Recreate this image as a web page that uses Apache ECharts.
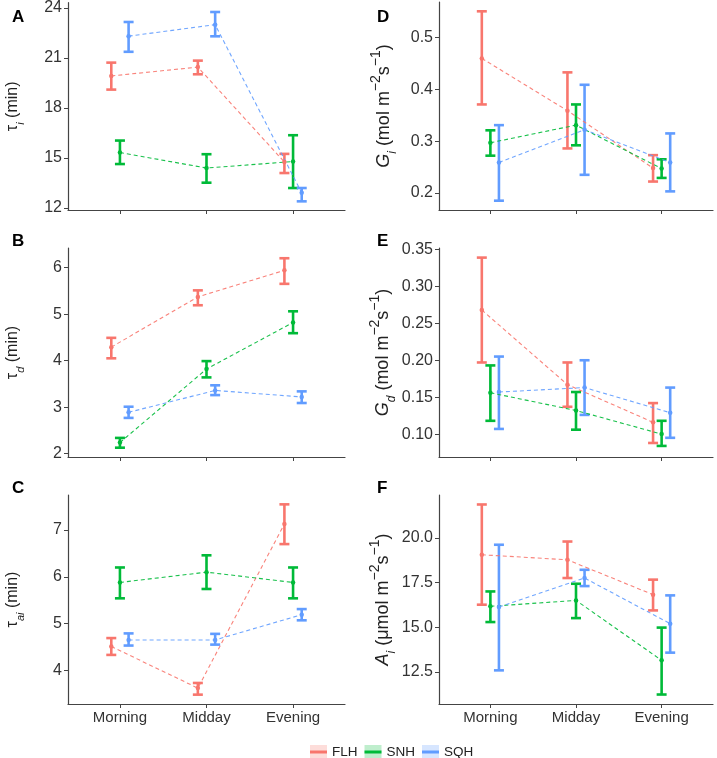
<!DOCTYPE html>
<html>
<head>
<meta charset="utf-8">
<title>Time constants and conductances</title>
<script src="https://cdn.jsdelivr.net/npm/echarts/dist/echarts.min.js"></script>
<style>
  html, body { margin: 0; padding: 0; background: #fff; }
  #main { width: 717px; height: 758px; }
</style>
</head>
<body>
<div id="main"></div>
<script>
// x positions: categories 1..3, groups dodged
const categories = ['Morning', 'Midday', 'Evening'];
const groups = ['FLH', 'SNH', 'SQH'];

// each array: [FLH, SNH, SQH], each row = [Morning, Midday, Evening]
const tauI_mean = [[19.92, 20.45, 14.75], [15.32, 14.39, 14.78], [22.31, 23.00, 12.90]];
const tauI_low  = [[19.10, 20.02, 14.09], [14.63, 13.51, 13.19], [21.37, 22.30, 12.39]];
const tauI_high = [[20.72, 20.84, 15.24], [16.04, 15.22, 16.36], [23.16, 23.76, 13.19]];
const tauI_ticks = [12, 15, 18, 21, 24];

const tauD_mean = [[4.29, 5.37, 5.94], [2.24, 3.82, 4.82], [2.89, 3.36, 3.22]];
const tauD_low  = [[4.05, 5.19, 5.65], [2.13, 3.64, 4.59], [2.77, 3.26, 3.09]];
const tauD_high = [[4.49, 5.51, 6.20], [2.34, 3.99, 5.06], [3.01, 3.47, 3.34]];
const tauD_ticks = [2, 3, 4, 5, 6];

const tauAI_mean = [[4.51, 3.62, 7.13], [5.88, 6.10, 5.88], [4.65, 4.65, 5.19]];
const tauAI_low  = [[4.33, 3.48, 6.70], [5.54, 5.74, 5.54], [4.53, 4.55, 5.07]];
const tauAI_high = [[4.69, 3.73, 7.55], [6.20, 6.46, 6.20], [4.79, 4.78, 5.31]];
const tauAI_ticks = [4, 5, 6, 7];

const gI_mean = [[0.460, 0.359, 0.248], [0.297, 0.331, 0.247], [0.259, 0.322, 0.259]];
const gI_low  = [[0.371, 0.286, 0.222], [0.272, 0.292, 0.229], [0.185, 0.235, 0.203]];
const gI_high = [[0.551, 0.433, 0.273], [0.321, 0.371, 0.265], [0.331, 0.409, 0.315]];
const gI_ticks = [0.2, 0.3, 0.4, 0.5];

const gD_mean = [[0.268, 0.167, 0.116], [0.156, 0.132, 0.100], [0.157, 0.163, 0.129]];
const gD_low  = [[0.197, 0.137, 0.088], [0.118, 0.106, 0.084], [0.107, 0.126, 0.095]];
const gD_high = [[0.339, 0.197, 0.142], [0.193, 0.157, 0.118], [0.205, 0.200, 0.163]];
const gD_ticks = [0.10, 0.15, 0.20, 0.25, 0.30, 0.35];

const aI_mean = [[19.05, 18.77, 16.82], [16.17, 16.50, 13.15], [16.13, 17.75, 15.20]];
const aI_low  = [[16.26, 17.75, 15.94], [15.29, 15.51, 11.24], [12.59, 17.30, 13.58]];
const aI_high = [[21.86, 19.79, 17.66], [17.00, 17.43, 14.98], [19.61, 18.21, 16.78]];
const aI_ticks = [12.5, 15.0, 17.5, 20.0];

const colors = ['#F8766D', '#00BA38', '#619CFF'];
const dodge = [-0.1, 0, 0.1];

const panels = [
  { tag: 'A', mean: tauI_mean, low: tauI_low, high: tauI_high, ticks: tauI_ticks, min: 11.87, max: 24.32, dec: 0,
    name: '{t|τ}{s|i}{t| (min)}', left: 68, width: 277, top: 2, height: 208 },
  { tag: 'B', mean: tauD_mean, low: tauD_low, high: tauD_high, ticks: tauD_ticks, min: 1.93, max: 6.42, dec: 0,
    name: '{t|τ}{s|d}{t| (min)}', left: 68, width: 277, top: 248, height: 209 },
  { tag: 'C', mean: tauAI_mean, low: tauAI_low, high: tauAI_high, ticks: tauAI_ticks, min: 3.28, max: 7.75, dec: 0,
    name: '{t|τ}{s|ai}{t| (min)}', left: 68, width: 277, top: 495, height: 209 },
  { tag: 'D', mean: gI_mean, low: gI_low, high: gI_high, ticks: gI_ticks, min: 0.167, max: 0.569, dec: 1,
    name: '{I|G}{S|i}{T| (mol m}{P|−2}{T|s}{P|−1}{T|)}', left: 439, width: 274, top: 2, height: 208 },
  { tag: 'E', mean: gD_mean, low: gD_low, high: gD_high, ticks: gD_ticks, min: 0.069, max: 0.352, dec: 2,
    name: '{I|G}{S|d}{T| (mol m}{P|−2}{T|s}{P|−1}{T|)}', left: 439, width: 274, top: 248, height: 209 },
  { tag: 'F', mean: aI_mean, low: aI_low, high: aI_high, ticks: aI_ticks, min: 10.71, max: 22.39, dec: 1,
    name: '{I|A}{S|i}{T| (μmol m}{P|−2}{T|s}{P|−1}{T|)}', left: 439, width: 274, top: 495, height: 209 }
];

const axisColor = '#444';
const nameRich = {
  t: { fontSize: 16, color: '#222', lineHeight: 26 },
  s: { fontSize: 11, color: '#222', fontStyle: 'italic', lineHeight: 11, verticalAlign: 'bottom' },
  T: { fontSize: 18, color: '#222', lineHeight: 30 },
  I: { fontSize: 18, color: '#222', fontStyle: 'italic', lineHeight: 30 },
  S: { fontSize: 12, color: '#222', fontStyle: 'italic', lineHeight: 12, verticalAlign: 'bottom' },
  P: { fontSize: 14, color: '#222', lineHeight: 14, verticalAlign: 'top' }
};

function renderBar(params, api) {
  const x = api.value(0);
  const lo = api.coord([x, api.value(1)]);
  const hi = api.coord([x, api.value(2)]);
  const c = api.visual('color');
  const seg = (x1, y1, x2, y2) => ({
    type: 'line', shape: { x1, y1, x2, y2 }, style: { stroke: c, lineWidth: 2.6 }
  });
  return {
    type: 'group',
    children: [
      seg(lo[0], lo[1], hi[0], hi[1]),
      seg(lo[0] - 5, lo[1], lo[0] + 5, lo[1]),
      seg(hi[0] - 5, hi[1], hi[0] + 5, hi[1])
    ]
  };
}

const grid = [], xAxis = [], yAxis = [], series = [], title = [];

panels.forEach((p, k) => {
  const bottomRow = p.top > 400;
  const leftCol = p.left < 100;
  grid.push({ left: p.left, width: p.width, top: p.top, height: p.height });
  title.push({
    text: p.tag, left: leftCol ? 12 : 377, top: p.top < 100 ? 9 : p.top - 15, padding: 0,
    textStyle: { fontSize: 17, fontWeight: 'bold', color: '#000', fontFamily: 'Liberation Sans' }
  });
  xAxis.push({
    type: 'value', gridIndex: k, min: 0.4, max: 3.6,
    splitLine: { show: false },
    axisLine: { lineStyle: { color: axisColor, width: 1.2 } },
    axisTick: { customValues: [1, 2, 3], length: 4, lineStyle: { color: axisColor } },
    axisLabel: {
      show: bottomRow, customValues: [1, 2, 3], margin: 6,
      fontSize: 15, color: '#333', fontFamily: 'Liberation Sans',
      formatter: v => categories[Math.round(v) - 1]
    }
  });
  yAxis.push({
    type: 'value', gridIndex: k, min: p.min, max: p.max,
    splitLine: { show: false },
    axisLine: { show: true, lineStyle: { color: axisColor, width: 1.2 } },
    axisTick: { show: true, customValues: p.ticks, length: 4, lineStyle: { color: axisColor } },
    axisLabel: {
      customValues: p.ticks, margin: 6, fontSize: 16, color: '#333', fontFamily: 'Liberation Sans',
      formatter: v => v.toFixed(p.dec)
    },
    name: p.name, nameLocation: 'middle', nameGap: leftCol ? 42 : 40,
    nameTextStyle: { fontFamily: 'Liberation Sans', rich: nameRich }
  });

  groups.forEach((g, j) => {
    const barData = categories.map((c, i) => [i + 1 + dodge[j], p.low[j][i], p.high[j][i]]);
    const lineData = categories.map((c, i) => [i + 1 + dodge[j], p.mean[j][i]]);
    series.push({
      type: 'custom', name: g, xAxisIndex: k, yAxisIndex: k, z: 2,
      renderItem: renderBar, encode: { x: 0, y: [1, 2] },
      itemStyle: { color: colors[j] }, data: barData
    });
    series.push({
      type: 'line', name: g, xAxisIndex: k, yAxisIndex: k, z: 3,
      data: lineData, symbol: 'circle', symbolSize: 4.5,
      itemStyle: { color: colors[j] },
      lineStyle: { color: colors[j], width: 1.1, type: [4, 3], opacity: 0.9 }
    });
  });
});

const legendBase = {
  data: groups, left: 305, top: 740, icon: 'rect', itemWidth: 17, itemGap: 7
};

const chart = echarts.init(document.getElementById('main'));
chart.setOption({
  animation: false,
  backgroundColor: '#fff',
  textStyle: { fontFamily: 'Liberation Sans' },
  title: title,
  grid: grid,
  xAxis: xAxis,
  yAxis: yAxis,
  legend: [
    Object.assign({}, legendBase, {
      itemHeight: 15, itemStyle: { opacity: 0.25 }, lineStyle: { opacity: 0 },
      textStyle: { fontSize: 13.5, color: '#222', fontFamily: 'Liberation Sans' }
    }),
    Object.assign({}, legendBase, {
      itemHeight: 3, lineStyle: { opacity: 0 },
      textStyle: { fontSize: 13.5, color: 'rgba(0,0,0,0)', fontFamily: 'Liberation Sans' }
    })
  ],
  series: series
});
</script>
</body>
</html>
